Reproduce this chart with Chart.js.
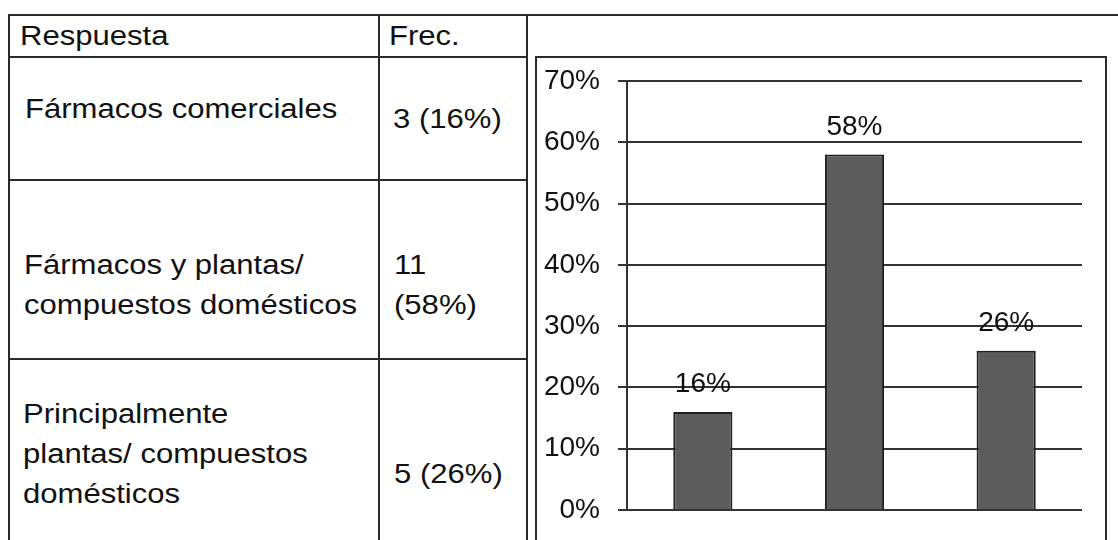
<!DOCTYPE html>
<html><head><meta charset="utf-8">
<script src="https://cdn.jsdelivr.net/npm/chart.js@4"></script>
<style>
html,body{margin:0;padding:0;background:#fff;width:1118px;height:540px;overflow:hidden;position:relative;font-family:'Liberation Sans',Arial,sans-serif;color:#111;}
.ln{position:absolute;background:#2a2a2a;}
.t{position:absolute;font-size:27px;line-height:40px;white-space:nowrap;transform:scaleX(1.15);transform-origin:0 0;}
#box{position:absolute;left:535px;top:56px;width:572px;height:500px;border:2px solid #2a2a2a;box-sizing:border-box;}
#chart{position:absolute;left:537px;top:58px;}
</style></head>
<body>
<div class="ln" style="left:8px;top:14px;width:1110px;height:2px"></div>
<div class="ln" style="left:8px;top:14px;width:2px;height:530px"></div>
<div class="ln" style="left:378px;top:14px;width:2px;height:530px"></div>
<div class="ln" style="left:526px;top:14px;width:2px;height:530px"></div>
<div class="ln" style="left:8px;top:56px;width:520px;height:2px"></div>
<div class="ln" style="left:8px;top:179px;width:520px;height:2px"></div>
<div class="ln" style="left:8px;top:358px;width:520px;height:2px"></div>
<div id="box"></div>
<div id="cells"></div>
<canvas id="chart" width="568" height="482"></canvas>
<script>
// ---- data ----
const headers = ['Respuesta', 'Frec.'];
const categoryLines = [
  ['Fármacos comerciales'],
  ['Fármacos y plantas/', 'compuestos domésticos'],
  ['Principalmente', 'plantas/ compuestos', 'domésticos']
];
const frequencies = [3, 11, 5];
const percentages = [16, 58, 26];
const freqLines = [
  [frequencies[0] + ' (' + percentages[0] + '%)'],
  [String(frequencies[1]), '(' + percentages[1] + '%)'],
  [frequencies[2] + ' (' + percentages[2] + '%)']
];
const yMin = 0, yMax = 70, yStep = 10;

// ---- table text ----
const cells = document.getElementById('cells');
function addText(lines, x, baseline) {
  const d = document.createElement('div');
  d.className = 't';
  d.style.left = x + 'px';
  d.style.top = (baseline - 29.7) + 'px';
  d.innerHTML = lines.map(s => s.replace(/&/g,'&amp;')).join('<br>');
  cells.appendChild(d);
}
addText([headers[0]], 20, 46);
addText([headers[1]], 389, 46);
const labelPos = [[25, 119], [24, 275], [23, 424]];
const freqPos = [[393, 129], [394, 275], [394, 484]];
categoryLines.forEach((l, i) => addText(l, labelPos[i][0], labelPos[i][1]));
freqLines.forEach((l, i) => addText(l, freqPos[i][0], freqPos[i][1]));

// ---- chart ----
const FONT = "'Liberation Sans', Arial, sans-serif";
const valueLabels = {
  id: 'valueLabels',
  afterDatasetsDraw(chart) {
    const ctx = chart.ctx;
    const meta = chart.getDatasetMeta(0);
    ctx.save();
    ctx.font = '28px ' + FONT;
    ctx.fillStyle = '#111';
    ctx.textAlign = 'center';
    ctx.textBaseline = 'alphabetic';
    meta.data.forEach((bar, i) => ctx.fillText(percentages[i] + '%', bar.x, bar.y - 20));
    ctx.restore();
  }
};
new Chart(document.getElementById('chart'), {
  type: 'bar',
  data: {
    labels: categoryLines.map(l => l.join(' ')),
    datasets: [{
      data: percentages,
      backgroundColor: '#5c5c5c',
      borderColor: '#1e1e1e',
      borderWidth: 2,
      categoryPercentage: 1,
      barPercentage: 0.39
    }]
  },
  options: {
    responsive: false,
    animation: false,
    layout: { padding: { top: 23, right: 23, bottom: 30, left: 0 } },
    plugins: { legend: { display: false }, tooltip: { enabled: false } },
    scales: {
      x: { display: false },
      y: {
        min: yMin, max: yMax,
        ticks: { stepSize: yStep, callback: v => v + '%', color: '#111', font: { size: 28, family: FONT }, padding: 18 },
        grid: { color: '#333', lineWidth: 2, tickLength: 9, drawTicks: true },
        border: { display: true, color: '#333', width: 2 },
        afterFit: s => { s.width = 90; s.paddingTop = 0; s.paddingBottom = 0; }
      }
    }
  },
  plugins: [valueLabels]
});
</script>
</body></html>
